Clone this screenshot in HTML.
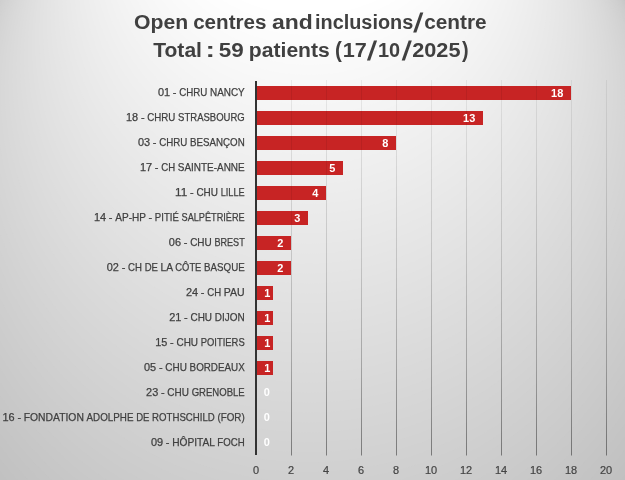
<!DOCTYPE html>
<html lang="fr"><head><meta charset="utf-8"><title>Open centres and inclusions/centre</title>
<style>html,body{margin:0;padding:0;background:#d0d0d0;overflow:hidden}svg{display:block}text{font-family:"Liberation Sans",sans-serif;white-space:pre}.cat{font-size:10.8px;fill:#404040;stroke:#404040;stroke-width:0.25px}.ax{font-size:10.8px;fill:#444444;stroke:#444444;stroke-width:0.2px;text-anchor:middle}.dl{font-size:11px;font-weight:bold;fill:#fff;text-anchor:middle}.ttl{font-size:19.6px;font-weight:bold;fill:#404040}</style></head><body>
<svg width="625" height="480" viewBox="0 0 625 480">
<defs>
<linearGradient id="gl" gradientUnits="userSpaceOnUse" x1="0" y1="80" x2="0" y2="455"><stop offset="0" stop-color="#000" stop-opacity="0.06"/><stop offset="0.5" stop-color="#000" stop-opacity="0.155"/><stop offset="0.75" stop-color="#000" stop-opacity="0.25"/><stop offset="1" stop-color="#000" stop-opacity="0.42"/></linearGradient>
</defs>
<rect x="0" y="0" width="625" height="480" fill="#bfbfbf"/>
<g>
<circle cx="309.0" cy="240.95" r="400.08" fill="#c0c0c0"/>
<circle cx="309.0" cy="234.85" r="396.25" fill="#c1c1c1"/>
<circle cx="309.0" cy="228.75" r="392.42" fill="#c2c2c2"/>
<circle cx="309.0" cy="222.65" r="388.59" fill="#c3c3c3"/>
<circle cx="309.0" cy="216.55" r="384.76" fill="#c4c4c4"/>
<circle cx="309.0" cy="210.45" r="380.93" fill="#c5c5c5"/>
<circle cx="309.0" cy="204.35" r="377.09" fill="#c6c6c6"/>
<circle cx="309.0" cy="198.25" r="373.26" fill="#c7c7c7"/>
<circle cx="309.0" cy="192.15" r="369.43" fill="#c8c8c8"/>
<circle cx="309.0" cy="186.05" r="365.60" fill="#c9c9c9"/>
<circle cx="309.0" cy="179.95" r="361.77" fill="#cacaca"/>
<circle cx="309.0" cy="173.85" r="357.94" fill="#cbcbcb"/>
<circle cx="309.0" cy="167.75" r="354.11" fill="#cccccc"/>
<circle cx="309.0" cy="161.65" r="350.27" fill="#cdcdcd"/>
<circle cx="309.0" cy="155.55" r="346.44" fill="#cecece"/>
<circle cx="309.0" cy="149.45" r="342.61" fill="#cfcfcf"/>
<circle cx="309.0" cy="143.35" r="338.78" fill="#d0d0d0"/>
<circle cx="309.0" cy="137.25" r="334.95" fill="#d1d1d1"/>
<circle cx="309.0" cy="131.15" r="331.12" fill="#d2d2d2"/>
<circle cx="309.0" cy="125.05" r="327.28" fill="#d3d3d3"/>
<circle cx="309.0" cy="118.95" r="323.45" fill="#d4d4d4"/>
<circle cx="309.0" cy="112.85" r="319.62" fill="#d5d5d5"/>
<circle cx="309.0" cy="106.75" r="315.79" fill="#d6d6d6"/>
<circle cx="309.0" cy="100.65" r="311.96" fill="#d7d7d7"/>
<circle cx="309.0" cy="94.55" r="308.13" fill="#d8d8d8"/>
<circle cx="309.0" cy="88.45" r="304.30" fill="#d9d9d9"/>
<circle cx="309.0" cy="82.35" r="300.46" fill="#dadada"/>
<circle cx="309.0" cy="76.25" r="296.63" fill="#dbdbdb"/>
<circle cx="309.0" cy="70.15" r="292.80" fill="#dcdcdc"/>
<circle cx="309.0" cy="64.05" r="288.97" fill="#dddddd"/>
<circle cx="309.0" cy="57.95" r="285.14" fill="#dedede"/>
<circle cx="309.0" cy="51.85" r="281.31" fill="#dfdfdf"/>
<circle cx="309.0" cy="45.75" r="277.47" fill="#e0e0e0"/>
<circle cx="309.0" cy="39.65" r="273.64" fill="#e1e1e1"/>
<circle cx="309.0" cy="33.55" r="269.81" fill="#e2e2e2"/>
<circle cx="309.0" cy="27.45" r="265.98" fill="#e3e3e3"/>
<circle cx="309.0" cy="21.35" r="262.15" fill="#e4e4e4"/>
<circle cx="309.0" cy="15.25" r="258.32" fill="#e5e5e5"/>
<circle cx="309.0" cy="9.15" r="254.48" fill="#e6e6e6"/>
<circle cx="309.0" cy="3.05" r="250.65" fill="#e7e7e7"/>
<circle cx="309.0" cy="-3.05" r="246.82" fill="#e8e8e8"/>
<circle cx="309.0" cy="-9.15" r="242.99" fill="#e9e9e9"/>
<circle cx="309.0" cy="-15.25" r="239.16" fill="#eaeaea"/>
<circle cx="309.0" cy="-21.35" r="235.33" fill="#ebebeb"/>
<circle cx="309.0" cy="-27.45" r="231.50" fill="#ececec"/>
<circle cx="309.0" cy="-33.55" r="227.66" fill="#ededed"/>
<circle cx="309.0" cy="-39.65" r="223.83" fill="#eeeeee"/>
<circle cx="309.0" cy="-45.75" r="220.00" fill="#efefef"/>
<circle cx="309.0" cy="-51.85" r="216.17" fill="#f0f0f0"/>
<circle cx="309.0" cy="-57.95" r="212.34" fill="#f1f1f1"/>
<circle cx="309.0" cy="-64.05" r="208.51" fill="#f2f2f2"/>
<circle cx="309.0" cy="-70.15" r="204.67" fill="#f3f3f3"/>
<circle cx="309.0" cy="-76.25" r="200.84" fill="#f4f4f4"/>
<circle cx="309.0" cy="-82.35" r="197.01" fill="#f5f5f5"/>
<circle cx="309.0" cy="-88.45" r="193.18" fill="#f6f6f6"/>
<circle cx="309.0" cy="-94.55" r="189.35" fill="#f7f7f7"/>
<circle cx="309.0" cy="-100.65" r="185.52" fill="#f8f8f8"/>
<circle cx="309.0" cy="-106.75" r="181.69" fill="#f9f9f9"/>
<circle cx="309.0" cy="-112.85" r="177.85" fill="#fafafa"/>
<circle cx="309.0" cy="-118.95" r="174.02" fill="#fbfbfb"/>
<circle cx="309.0" cy="-125.05" r="170.19" fill="#fcfcfc"/>
<circle cx="309.0" cy="-131.15" r="166.36" fill="#fdfdfd"/>
<circle cx="309.0" cy="-137.25" r="162.53" fill="#fefefe"/>
<circle cx="309.0" cy="-143.35" r="158.70" fill="#ffffff"/>
</g>
<rect x="291" y="80" width="1" height="375.5" fill="url(#gl)"/>
<rect x="326" y="80" width="1" height="375.5" fill="url(#gl)"/>
<rect x="361" y="80" width="1" height="375.5" fill="url(#gl)"/>
<rect x="396" y="80" width="1" height="375.5" fill="url(#gl)"/>
<rect x="431" y="80" width="1" height="375.5" fill="url(#gl)"/>
<rect x="466" y="80" width="1" height="375.5" fill="url(#gl)"/>
<rect x="501" y="80" width="1" height="375.5" fill="url(#gl)"/>
<rect x="536" y="80" width="1" height="375.5" fill="url(#gl)"/>
<rect x="571" y="80" width="1" height="375.5" fill="url(#gl)"/>
<rect x="606" y="80" width="1" height="375.5" fill="url(#gl)"/>
<rect x="257" y="86" width="314" height="14" fill="#c72424"/>
<rect x="257" y="111" width="226" height="14" fill="#c72424"/>
<rect x="257" y="136" width="139" height="14" fill="#c72424"/>
<rect x="257" y="161" width="86" height="14" fill="#c72424"/>
<rect x="257" y="186" width="69" height="14" fill="#c72424"/>
<rect x="257" y="211" width="51" height="14" fill="#c72424"/>
<rect x="257" y="236" width="34" height="14" fill="#c72424"/>
<rect x="257" y="261" width="34" height="14" fill="#c72424"/>
<rect x="257" y="286" width="16" height="14" fill="#c72424"/>
<rect x="257" y="311" width="16" height="14" fill="#c72424"/>
<rect x="257" y="336" width="16" height="14" fill="#c72424"/>
<rect x="257" y="361" width="16" height="14" fill="#c72424"/>
<rect x="291" y="86" width="1" height="14" fill="#000" fill-opacity="0.07"/>
<rect x="326" y="86" width="1" height="14" fill="#000" fill-opacity="0.07"/>
<rect x="361" y="86" width="1" height="14" fill="#000" fill-opacity="0.07"/>
<rect x="396" y="86" width="1" height="14" fill="#000" fill-opacity="0.07"/>
<rect x="431" y="86" width="1" height="14" fill="#000" fill-opacity="0.07"/>
<rect x="466" y="86" width="1" height="14" fill="#000" fill-opacity="0.07"/>
<rect x="501" y="86" width="1" height="14" fill="#000" fill-opacity="0.07"/>
<rect x="536" y="86" width="1" height="14" fill="#000" fill-opacity="0.07"/>
<rect x="291" y="111" width="1" height="14" fill="#000" fill-opacity="0.07"/>
<rect x="326" y="111" width="1" height="14" fill="#000" fill-opacity="0.07"/>
<rect x="361" y="111" width="1" height="14" fill="#000" fill-opacity="0.07"/>
<rect x="396" y="111" width="1" height="14" fill="#000" fill-opacity="0.07"/>
<rect x="431" y="111" width="1" height="14" fill="#000" fill-opacity="0.07"/>
<rect x="466" y="111" width="1" height="14" fill="#000" fill-opacity="0.07"/>
<rect x="291" y="136" width="1" height="14" fill="#000" fill-opacity="0.07"/>
<rect x="326" y="136" width="1" height="14" fill="#000" fill-opacity="0.07"/>
<rect x="361" y="136" width="1" height="14" fill="#000" fill-opacity="0.07"/>
<rect x="291" y="161" width="1" height="14" fill="#000" fill-opacity="0.07"/>
<rect x="326" y="161" width="1" height="14" fill="#000" fill-opacity="0.07"/>
<rect x="291" y="186" width="1" height="14" fill="#000" fill-opacity="0.07"/>
<rect x="291" y="211" width="1" height="14" fill="#000" fill-opacity="0.07"/>
<rect x="255" y="81" width="2" height="374" fill="#333333"/>
<text class="ttl" x="133.97" y="29.0" textLength="54.13" lengthAdjust="spacingAndGlyphs">Open</text>
<text class="ttl" x="193.15" y="29.0" textLength="73.34" lengthAdjust="spacingAndGlyphs">centres</text>
<text class="ttl" x="271.99" y="29.0" textLength="40.81" lengthAdjust="spacingAndGlyphs">and</text>
<text class="ttl" x="315.06" y="29.0" textLength="98.19" lengthAdjust="spacingAndGlyphs">inclusions</text>
<text class="ttl" style="font-size:27.0px" transform="translate(413.00 32.20) skewX(-9) scale(1.0 1)">/</text>
<text class="ttl" x="424.23" y="29.0" textLength="62.43" lengthAdjust="spacingAndGlyphs">centre</text>
<text class="ttl" x="153.22" y="57.1" textLength="48.72" lengthAdjust="spacingAndGlyphs">Total</text>
<text class="ttl" x="205.57" y="57.1" textLength="9.51" lengthAdjust="spacingAndGlyphs">:</text>
<text class="ttl" x="218.69" y="57.1" textLength="24.97" lengthAdjust="spacingAndGlyphs">59</text>
<text class="ttl" x="248.89" y="57.1" textLength="80.89" lengthAdjust="spacingAndGlyphs">patients</text>
<text class="ttl" x="334.95" y="57.1" style="font-size:22.6px" textLength="6.85" lengthAdjust="spacingAndGlyphs">(</text>
<text class="ttl" x="342.81" y="57.1" textLength="24.06" lengthAdjust="spacingAndGlyphs">17</text>
<text class="ttl" style="font-size:27.0px" transform="translate(366.80 60.30) skewX(-9) scale(1.0 1)">/</text>
<text class="ttl" x="377.98" y="57.1" textLength="22.13" lengthAdjust="spacingAndGlyphs">10</text>
<text class="ttl" style="font-size:27.0px" transform="translate(401.40 60.30) skewX(-9) scale(1.0 1)">/</text>
<text class="ttl" x="412.22" y="57.1" textLength="48.29" lengthAdjust="spacingAndGlyphs">2025</text>
<text class="ttl" x="462.10" y="57.1" style="font-size:22.6px" textLength="6.60" lengthAdjust="spacingAndGlyphs">)</text>
<text class="cat" y="96.0"><tspan x="157.95" textLength="12.16" lengthAdjust="spacingAndGlyphs">01</tspan> <tspan x="172.83" textLength="3.67" lengthAdjust="spacingAndGlyphs">-</tspan> <tspan x="179.22" textLength="28.09" lengthAdjust="spacingAndGlyphs">CHRU</tspan> <tspan x="210.02" textLength="34.68" lengthAdjust="spacingAndGlyphs">NANCY</tspan></text>
<text class="cat" y="121.0"><tspan x="126.04" textLength="12.16" lengthAdjust="spacingAndGlyphs">18</tspan> <tspan x="140.92" textLength="3.67" lengthAdjust="spacingAndGlyphs">-</tspan> <tspan x="147.31" textLength="28.09" lengthAdjust="spacingAndGlyphs">CHRU</tspan> <tspan x="178.11" textLength="66.59" lengthAdjust="spacingAndGlyphs">STRASBOURG</tspan></text>
<text class="cat" y="146.0"><tspan x="137.95" textLength="12.16" lengthAdjust="spacingAndGlyphs">03</tspan> <tspan x="152.83" textLength="3.67" lengthAdjust="spacingAndGlyphs">-</tspan> <tspan x="159.22" textLength="28.09" lengthAdjust="spacingAndGlyphs">CHRU</tspan> <tspan x="190.02" textLength="54.68" lengthAdjust="spacingAndGlyphs">BESANÇON</tspan></text>
<text class="cat" y="171.0"><tspan x="139.95" textLength="12.16" lengthAdjust="spacingAndGlyphs">17</tspan> <tspan x="154.82" textLength="3.67" lengthAdjust="spacingAndGlyphs">-</tspan> <tspan x="161.21" textLength="13.88" lengthAdjust="spacingAndGlyphs">CH</tspan> <tspan x="177.80" textLength="66.90" lengthAdjust="spacingAndGlyphs">SAINTE-ANNE</tspan></text>
<text class="cat" y="196.0"><tspan x="175.13" textLength="12.16" lengthAdjust="spacingAndGlyphs">11</tspan> <tspan x="190.01" textLength="3.67" lengthAdjust="spacingAndGlyphs">-</tspan> <tspan x="196.40" textLength="21.57" lengthAdjust="spacingAndGlyphs">CHU</tspan> <tspan x="220.68" textLength="24.02" lengthAdjust="spacingAndGlyphs">LILLE</tspan></text>
<text class="cat" y="221.0"><tspan x="94.00" textLength="12.16" lengthAdjust="spacingAndGlyphs">14</tspan> <tspan x="108.87" textLength="3.67" lengthAdjust="spacingAndGlyphs">-</tspan> <tspan x="115.26" textLength="30.49" lengthAdjust="spacingAndGlyphs">AP-HP</tspan> <tspan x="148.47" textLength="3.67" lengthAdjust="spacingAndGlyphs">-</tspan> <tspan x="154.85" textLength="23.95" lengthAdjust="spacingAndGlyphs">PITIÉ</tspan> <tspan x="181.52" textLength="63.18" lengthAdjust="spacingAndGlyphs">SALPÊTRIÈRE</tspan></text>
<text class="cat" y="246.0"><tspan x="168.89" textLength="12.16" lengthAdjust="spacingAndGlyphs">06</tspan> <tspan x="183.76" textLength="3.67" lengthAdjust="spacingAndGlyphs">-</tspan> <tspan x="190.15" textLength="21.57" lengthAdjust="spacingAndGlyphs">CHU</tspan> <tspan x="214.44" textLength="30.26" lengthAdjust="spacingAndGlyphs">BREST</tspan></text>
<text class="cat" y="271.0"><tspan x="106.81" textLength="12.16" lengthAdjust="spacingAndGlyphs">02</tspan> <tspan x="121.69" textLength="3.67" lengthAdjust="spacingAndGlyphs">-</tspan> <tspan x="128.07" textLength="13.88" lengthAdjust="spacingAndGlyphs">CH</tspan> <tspan x="144.66" textLength="13.24" lengthAdjust="spacingAndGlyphs">DE</tspan> <tspan x="160.62" textLength="11.99" lengthAdjust="spacingAndGlyphs">LA</tspan> <tspan x="175.32" textLength="26.05" lengthAdjust="spacingAndGlyphs">CÔTE</tspan> <tspan x="204.08" textLength="40.62" lengthAdjust="spacingAndGlyphs">BASQUE</tspan></text>
<text class="cat" y="296.0"><tspan x="186.01" textLength="12.16" lengthAdjust="spacingAndGlyphs">24</tspan> <tspan x="200.88" textLength="3.67" lengthAdjust="spacingAndGlyphs">-</tspan> <tspan x="207.27" textLength="13.88" lengthAdjust="spacingAndGlyphs">CH</tspan> <tspan x="223.86" textLength="20.84" lengthAdjust="spacingAndGlyphs">PAU</tspan></text>
<text class="cat" y="321.0"><tspan x="169.23" textLength="12.16" lengthAdjust="spacingAndGlyphs">21</tspan> <tspan x="184.10" textLength="3.67" lengthAdjust="spacingAndGlyphs">-</tspan> <tspan x="190.49" textLength="21.57" lengthAdjust="spacingAndGlyphs">CHU</tspan> <tspan x="214.78" textLength="29.92" lengthAdjust="spacingAndGlyphs">DIJON</tspan></text>
<text class="cat" y="346.0"><tspan x="155.22" textLength="12.16" lengthAdjust="spacingAndGlyphs">15</tspan> <tspan x="170.10" textLength="3.67" lengthAdjust="spacingAndGlyphs">-</tspan> <tspan x="176.49" textLength="21.57" lengthAdjust="spacingAndGlyphs">CHU</tspan> <tspan x="200.77" textLength="43.93" lengthAdjust="spacingAndGlyphs">POITIERS</tspan></text>
<text class="cat" y="371.0"><tspan x="144.05" textLength="12.16" lengthAdjust="spacingAndGlyphs">05</tspan> <tspan x="158.92" textLength="3.67" lengthAdjust="spacingAndGlyphs">-</tspan> <tspan x="165.31" textLength="21.57" lengthAdjust="spacingAndGlyphs">CHU</tspan> <tspan x="189.60" textLength="55.10" lengthAdjust="spacingAndGlyphs">BORDEAUX</tspan></text>
<text class="cat" y="396.0"><tspan x="146.08" textLength="12.16" lengthAdjust="spacingAndGlyphs">23</tspan> <tspan x="160.96" textLength="3.67" lengthAdjust="spacingAndGlyphs">-</tspan> <tspan x="167.34" textLength="21.57" lengthAdjust="spacingAndGlyphs">CHU</tspan> <tspan x="191.63" textLength="53.07" lengthAdjust="spacingAndGlyphs">GRENOBLE</tspan></text>
<text class="cat" y="421.0"><tspan x="2.52" textLength="12.16" lengthAdjust="spacingAndGlyphs">16</tspan> <tspan x="17.40" textLength="3.67" lengthAdjust="spacingAndGlyphs">-</tspan> <tspan x="23.78" textLength="60.09" lengthAdjust="spacingAndGlyphs">FONDATION</tspan> <tspan x="86.59" textLength="46.85" lengthAdjust="spacingAndGlyphs">ADOLPHE</tspan> <tspan x="136.16" textLength="13.24" lengthAdjust="spacingAndGlyphs">DE</tspan> <tspan x="152.11" textLength="62.62" lengthAdjust="spacingAndGlyphs">ROTHSCHILD</tspan> <tspan x="217.45" textLength="27.25" lengthAdjust="spacingAndGlyphs">(FOR)</tspan></text>
<text class="cat" y="446.0"><tspan x="150.91" textLength="12.16" lengthAdjust="spacingAndGlyphs">09</tspan> <tspan x="165.79" textLength="3.67" lengthAdjust="spacingAndGlyphs">-</tspan> <tspan x="172.17" textLength="42.48" lengthAdjust="spacingAndGlyphs">HÔPITAL</tspan> <tspan x="217.37" textLength="27.33" lengthAdjust="spacingAndGlyphs">FOCH</tspan></text>
<text class="dl" x="557.2" y="96.8" textLength="12.2" lengthAdjust="spacingAndGlyphs">18</text>
<text class="dl" x="469.2" y="121.8" textLength="12.2" lengthAdjust="spacingAndGlyphs">13</text>
<text class="dl" x="385.3" y="146.8" textLength="6.1" lengthAdjust="spacingAndGlyphs">8</text>
<text class="dl" x="332.3" y="171.8" textLength="6.1" lengthAdjust="spacingAndGlyphs">5</text>
<text class="dl" x="315.3" y="196.8" textLength="6.1" lengthAdjust="spacingAndGlyphs">4</text>
<text class="dl" x="297.3" y="221.8" textLength="6.1" lengthAdjust="spacingAndGlyphs">3</text>
<text class="dl" x="280.3" y="246.8" textLength="6.1" lengthAdjust="spacingAndGlyphs">2</text>
<text class="dl" x="280.3" y="271.8" textLength="6.1" lengthAdjust="spacingAndGlyphs">2</text>
<text class="dl" x="267.2" y="296.8" textLength="6.1" lengthAdjust="spacingAndGlyphs">1</text>
<text class="dl" x="267.2" y="321.8" textLength="6.1" lengthAdjust="spacingAndGlyphs">1</text>
<text class="dl" x="267.2" y="346.8" textLength="6.1" lengthAdjust="spacingAndGlyphs">1</text>
<text class="dl" x="267.2" y="371.8" textLength="6.1" lengthAdjust="spacingAndGlyphs">1</text>
<text class="dl" x="266.8" y="395.9" textLength="6.1" lengthAdjust="spacingAndGlyphs">0</text>
<text class="dl" x="266.8" y="420.9" textLength="6.1" lengthAdjust="spacingAndGlyphs">0</text>
<text class="dl" x="266.8" y="445.9" textLength="6.1" lengthAdjust="spacingAndGlyphs">0</text>
<text class="ax" x="256.0" y="474" textLength="6.1" lengthAdjust="spacingAndGlyphs">0</text>
<text class="ax" x="291.0" y="474" textLength="6.1" lengthAdjust="spacingAndGlyphs">2</text>
<text class="ax" x="326.0" y="474" textLength="6.1" lengthAdjust="spacingAndGlyphs">4</text>
<text class="ax" x="361.0" y="474" textLength="6.1" lengthAdjust="spacingAndGlyphs">6</text>
<text class="ax" x="396.0" y="474" textLength="6.1" lengthAdjust="spacingAndGlyphs">8</text>
<text class="ax" x="431.0" y="474" textLength="12.2" lengthAdjust="spacingAndGlyphs">10</text>
<text class="ax" x="466.0" y="474" textLength="12.2" lengthAdjust="spacingAndGlyphs">12</text>
<text class="ax" x="501.0" y="474" textLength="12.2" lengthAdjust="spacingAndGlyphs">14</text>
<text class="ax" x="536.0" y="474" textLength="12.2" lengthAdjust="spacingAndGlyphs">16</text>
<text class="ax" x="571.0" y="474" textLength="12.2" lengthAdjust="spacingAndGlyphs">18</text>
<text class="ax" x="606.0" y="474" textLength="12.2" lengthAdjust="spacingAndGlyphs">20</text>
</svg></body></html>
